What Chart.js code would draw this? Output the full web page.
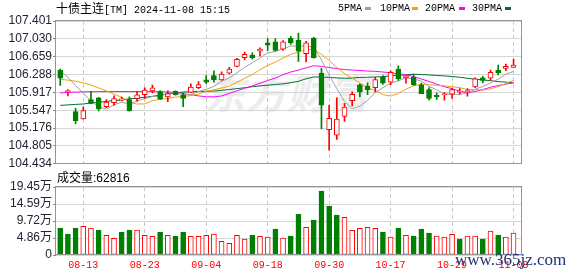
<!DOCTYPE html>
<html><head><meta charset="utf-8">
<script src="https://cdn.jsdelivr.net/npm/chart.js@4.4.1/dist/chart.umd.min.js"></script>
<style>
html,body{margin:0;padding:0;background:#fff;}
body{width:578px;height:276px;position:relative;overflow:hidden;}
.a{position:absolute;white-space:nowrap;line-height:14px;}
.m{font-family:"Liberation Mono",monospace;font-size:10px;}
.c{font-family:"Noto Sans CJK SC",sans-serif;font-size:12px;}
.s{font-family:"Liberation Sans",sans-serif;font-size:12px;}
.sw{position:absolute;width:6px;height:3px;}
</style></head><body>
<div class="a" style="left:205px;top:70px;font:italic bold 40px 'Noto Sans CJK SC';line-height:44px;color:#ededed;letter-spacing:1px;">东方财富</div>
<canvas id="cMain" width="578" height="172" style="position:absolute;left:0;top:0;"></canvas>
<canvas id="cVol" width="578" height="106" style="position:absolute;left:0;top:170px;"></canvas>
<div class="a" style="left:56px;top:1px;color:#000;"><span class="c">十债主连</span><span class="m">[TM] 2024-11-08 15:15</span></div>
<div class="a m" style="left:338px;top:2px;">5PMA</div><div class="sw" style="left:365px;top:7px;background:#a0a0a0"></div>
<div class="a m" style="left:380px;top:2px;">10PMA</div><div class="sw" style="left:412px;top:7px;background:#f5a300"></div>
<div class="a m" style="left:425px;top:2px;">20PMA</div><div class="sw" style="left:459px;top:7px;background:#ff00ff"></div>
<div class="a m" style="left:472px;top:2px;">30PMA</div><div class="sw" style="left:505px;top:7px;background:#007030"></div>
<div class="a" id="volTxt" style="left:57px;top:170px;color:#000;"></div>
<div class="a" style="left:455px;top:251px;font:17px 'Liberation Serif';line-height:18px;color:#1e3278;">www.365jz.com</div>
<script>
const dates = ['08-08','08-09','08-12','08-13','08-14','08-15','08-16','08-19','08-20','08-21','08-22','08-23','08-26','08-27','08-28','08-29','08-30',
 '09-02','09-03','09-04','09-05','09-06','09-09','09-10','09-11','09-12','09-13','09-18','09-19','09-20','09-23','09-24','09-25','09-26','09-27','09-30',
 '10-08','10-09','10-10','10-11','10-14','10-15','10-16','10-17','10-18','10-21','10-22','10-23','10-24','10-25','10-28','10-29','10-30','10-31',
 '11-01','11-04','11-05','11-06','11-07','11-08'];
const labelIdx = [3,11,19,27,35,43,51,59];

const opens = [106.382,105.935,105.520,105.369,105.770,105.805,105.621,105.703,105.757,105.770,
 105.785,105.872,105.948,105.933,105.825,105.940,105.858,105.919,106.015,106.178,
 106.266,106.178,106.315,106.457,106.641,106.694,106.775,106.946,106.967,106.816,
 107.048,107.000,106.722,107.048,106.321,105.145,105.030,105.418,105.744,106.076,
 106.049,106.015,106.233,106.131,106.402,106.219,106.233,106.076,105.974,105.858,
 105.868,105.879,105.920,105.932,106.029,106.219,106.213,106.382,106.416,106.437];
const highs = [106.402,105.974,105.587,105.613,105.940,105.815,105.770,105.846,105.820,105.825,
 105.933,106.015,106.070,105.954,105.950,105.950,105.907,106.097,106.143,106.266,
 106.368,106.347,106.437,106.626,106.755,106.742,106.845,107.034,107.034,106.993,
 107.081,107.150,106.979,107.061,106.416,105.654,105.805,105.689,105.927,106.097,
 106.117,106.233,106.266,106.368,106.470,106.266,106.300,106.111,106.020,105.907,
 105.913,105.995,105.995,105.995,106.219,106.253,106.382,106.484,106.504,106.606];
const lows = [106.062,105.846,105.267,105.360,105.685,105.532,105.601,105.654,105.740,105.530,
 105.736,105.797,105.907,105.770,105.723,105.860,105.621,105.915,105.995,106.097,
 106.131,106.164,106.300,106.449,106.592,106.606,106.673,106.789,106.775,106.789,
 106.912,106.559,106.551,106.630,105.159,104.716,104.941,105.316,105.634,105.825,
 105.872,105.927,106.082,106.076,106.164,106.111,106.062,105.890,105.757,105.770,
 105.757,105.791,105.880,105.838,106.015,106.117,106.164,106.280,106.368,106.437];
const closes = [106.213,105.945,105.328,105.540,105.689,105.573,105.715,105.791,105.785,105.532,
 105.866,105.968,106.015,105.777,105.893,105.872,105.791,106.029,106.082,106.131,
 106.184,106.300,106.402,106.606,106.708,106.641,106.816,106.898,106.790,106.967,
 106.946,106.775,106.946,106.641,105.654,105.377,105.363,105.613,105.879,105.927,
 105.974,106.184,106.111,106.335,106.198,106.260,106.076,105.893,105.791,105.825,
 105.876,105.974,105.930,105.940,106.198,106.164,106.335,106.330,106.457,106.484];

const ma5 = [106.368,106.233,106.060,105.900,105.743,105.615,105.569,105.662,105.711,105.679,
 105.738,105.788,105.833,105.832,105.904,105.905,105.870,105.872,105.933,105.981,
 106.043,106.145,106.220,106.325,106.440,106.531,106.635,106.734,106.771,106.822,
 106.883,106.875,106.885,106.855,106.592,106.279,105.996,105.730,105.577,105.632,
 105.751,105.915,106.015,106.106,106.160,106.218,106.196,106.152,106.044,105.969,
 105.892,105.872,105.879,105.909,105.984,106.041,106.113,106.193,106.297,106.354];
const ma10 = [106.192,106.172,106.150,106.115,106.070,106.010,105.950,105.880,105.817,105.711,
 105.676,105.679,105.747,105.771,105.792,105.821,105.829,105.853,105.883,105.942,
 105.974,106.007,106.046,106.129,106.211,106.287,106.390,106.477,106.548,106.631,
 106.707,106.755,106.809,106.813,106.707,106.581,106.436,106.307,106.216,106.112,
 106.015,105.956,105.872,105.842,105.896,105.984,106.056,106.084,106.075,106.065,
 106.055,106.034,106.016,105.976,105.976,105.967,105.993,106.036,106.103,106.169];
const ma20 = [105.907,105.918,105.924,105.930,105.932,105.934,105.935,105.936,105.936,105.935,
 105.935,105.934,105.932,105.930,105.926,105.918,105.895,105.868,105.845,105.827,
 105.825,105.843,105.897,105.950,106.001,106.054,106.109,106.165,106.215,106.287,
 106.341,106.381,106.428,106.471,106.459,106.434,106.413,106.392,106.382,106.372,
 106.361,106.355,106.341,106.327,106.302,106.283,106.246,106.195,106.146,106.088,
 106.035,105.995,105.944,105.909,105.936,105.976,106.024,106.060,106.089,106.117];
const ma30 = [105.648,105.658,105.668,105.677,105.697,105.713,105.730,105.746,105.762,105.783,
 105.799,105.815,105.836,105.860,105.885,105.907,105.925,105.932,105.937,105.941,
 105.945,105.960,105.978,105.995,106.015,106.035,106.052,106.068,106.082,106.095,
 106.119,106.147,106.201,106.238,106.236,106.230,106.218,106.212,106.215,106.229,
 106.232,106.239,106.243,106.261,106.271,106.284,106.294,106.289,106.280,106.269,
 106.259,106.248,106.232,106.210,106.193,106.177,106.161,106.142,106.131,106.115];

const volumes = [77200,60100,77200,82100,77200,71500,56300,47700,65800,71500,
 71500,56300,53500,65800,56300,53500,65800,53500,53500,56300,
 60100,39200,33500,56300,45800,56300,53500,51500,74400,48600,
 54300,116400,79200,100100,183000,140100,114400,107800,70600,76300,
 79200,76300,65800,51500,77200,56300,54300,74400,62900,54300,
 51500,59200,45800,54300,54300,45800,68600,57200,51500,62816];
const volUp = [0,0,0,1,1,0,1,1,0,0, 1,1,1,0,1,0,0,1,1,1, 1,1,1,1,1,0,1,1,0,1,
 0,0,1,0,0,0,0,1,1,1, 1,1,0,1,0,1,0,0,0,1, 1,1,0,1,1,0,1,0,1,1];

const priceTicks = [104.434,104.805,105.176,105.547,105.917,106.288,106.659,107.030,107.401];
const volTicks = [0,48625,97250,145875,194500];
const volTickLabels = ['0','4.86万','9.72万','14.59万','19.45万'];

const GREEN = '#008000', RED = '#ff0000';
const candleUp = i => closes[i] >= opens[i];

document.getElementById('volTxt').innerHTML = '<span class="c">成交量</span><span class="s">:' + volumes[volumes.length-1] + '</span>';

const framePlugin = {
  id: 'frame',
  afterDraw(chart) {
    const {ctx, chartArea: a} = chart;
    ctx.save();
    ctx.strokeStyle = '#959595';
    ctx.lineWidth = 1;
    ctx.strokeRect(Math.round(a.left) - 0.5, Math.round(a.top) - 0.5, Math.round(a.right - a.left), Math.round(a.bottom - a.top));
    ctx.restore();
  }
};

function xScale(showLabels) {
  return {
    type: 'linear', min: -0.55, max: 60.1, offset: false,
    afterBuildTicks: s => { s.ticks = labelIdx.map(v => ({value: v})); },
    grid: {offset: false, color: '#c8c8c8', drawTicks: false},
    border: {display: false, dash: [4, 3]},
    ticks: {display: showLabels, autoSkip: false, maxRotation: 0, padding: 4,
      color: RED, font: {family: '"Liberation Mono"', size: 10},
      callback: v => dates[v]}
  };
}

const lineDs = (arr, color) => ({
  type: 'line', data: arr.map((v, i) => ({x: i, y: v})), borderColor: color,
  borderWidth: 1, pointRadius: 0, fill: false, tension: 0, order: 2
});

new Chart(document.getElementById('cMain'), {
  type: 'bar',
  data: {datasets: [
    {type: 'bar', data: opens.map((o, i) => ({x: i, y: [o, closes[i]]})),
     backgroundColor: c => candleUp(c.dataIndex) ? '#ffffff' : GREEN,
     borderColor: c => candleUp(c.dataIndex) ? RED : GREEN,
     borderWidth: 1, borderSkipped: false, barThickness: 5, minBarLength: 1, grouped: false, order: 0},
    {type: 'bar', data: lows.map((l, i) => ({x: i, y: [l, highs[i]]})),
     backgroundColor: c => candleUp(c.dataIndex) ? RED : GREEN,
     borderWidth: 0, barThickness: 1, grouped: false, order: 1},
    lineDs(ma5, '#a0a0a0'),
    lineDs(ma10, '#f5a300'),
    lineDs(ma20, '#ff00ff'),
    lineDs(ma30, '#007030')
  ]},
  options: {
    responsive: false, animation: false, devicePixelRatio: 1,
    layout: {padding: {left: 0, right: 56, top: 21, bottom: 6}},
    plugins: {legend: {display: false}, tooltip: {enabled: false}},
    scales: {
      x: Object.assign(xScale(false), {afterFit: s => { s.height = 0; }}),
      y: {
        type: 'linear', min: 104.434, max: 107.401, beginAtZero: false,
        afterBuildTicks: s => { s.ticks = priceTicks.map(v => ({value: v})); },
        afterFit: s => { s.width = 56; },
        ticks: {callback: v => v.toFixed(3), color: '#222233', padding: 1, autoSkip: false,
          font: {family: '"Liberation Sans"', size: 12}},
        grid: {color: '#d6d6d6', tickLength: 3, tickColor: '#888888'},
        border: {display: false}
      }
    }
  },
  plugins: [framePlugin]
});

new Chart(document.getElementById('cVol'), {
  type: 'bar',
  data: {datasets: [
    {type: 'bar', data: volumes.map((v, i) => ({x: i, y: v})),
     backgroundColor: c => volUp[c.dataIndex] ? '#ffffff' : GREEN,
     borderColor: c => volUp[c.dataIndex] ? RED : GREEN,
     borderWidth: 1, borderSkipped: false, barThickness: 5, grouped: false}
  ]},
  options: {
    responsive: false, animation: false, devicePixelRatio: 1,
    layout: {padding: {left: 0, right: 56, top: 17, bottom: 0}},
    plugins: {legend: {display: false}, tooltip: {enabled: false}},
    scales: {
      x: Object.assign(xScale(true), {afterFit: s => { s.height = 21; }}),
      y: {
        type: 'linear', min: 0, max: 194500,
        afterBuildTicks: s => { s.ticks = volTicks.map(v => ({value: v})); },
        afterFit: s => { s.width = 56; },
        ticks: {callback: (v, i) => volTickLabels[i], color: '#222233', padding: 1, autoSkip: false,
          font: {family: '"Liberation Sans","Noto Sans CJK SC"', size: 12}},
        grid: {color: '#d6d6d6', tickLength: 3, tickColor: '#888888'},
        border: {display: false}
      }
    }
  },
  plugins: [framePlugin]
});
</script>
</body></html>
